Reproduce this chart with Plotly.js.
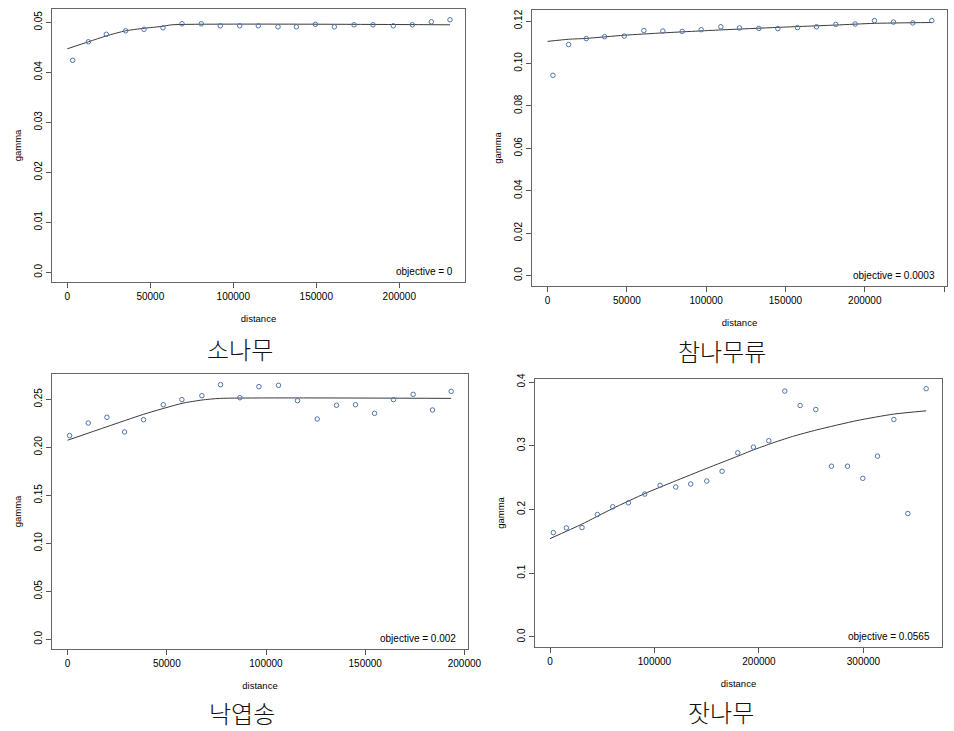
<!DOCTYPE html>
<html>
<head>
<meta charset="utf-8">
<script src="https://cdn.plot.ly/plotly-3.0.1.min.js"></script>
<style>
  html, body { margin: 0; padding: 0; background: #fff; }
  #chart { width: 954px; height: 731px; }
</style>
</head>
<body>
<div id="chart"></div>
<script>
// empirical variogram points and fitted model lines, read off the figure
// 소나무
const dist1 = [3220, 12670, 23510, 35160, 46200, 57650, 69100, 80740, 92190, 103830, 115080,
  126930, 137970, 149420, 160860, 172710, 184160, 196400, 207850, 219290, 230540];
const gamma1 = [0.0424, 0.0461, 0.0476, 0.0483, 0.0486, 0.0489, 0.0497, 0.0497, 0.0493, 0.0493, 0.0493,
  0.0491, 0.0491, 0.0496, 0.0491, 0.0495, 0.0495, 0.0493, 0.0495, 0.0501, 0.0505];
const fitDist1 = [0, 12670, 23700, 35160, 46200, 57500, 63000, 230540];
const fitGamma1 = [0.0447, 0.0461, 0.0473, 0.0483, 0.0488, 0.0492, 0.0495, 0.0495];

// 참나무류
const dist2 = [3360, 13240, 24370, 35920, 48320, 60710, 72690, 84870, 96850, 109240, 121010,
  133190, 145170, 157560, 169540, 181720, 193910, 206090, 218070, 230250, 242230];
const gamma2 = [0.0944, 0.1089, 0.1117, 0.1126, 0.1129, 0.1155, 0.1153, 0.1151, 0.1159, 0.1173, 0.1167,
  0.1165, 0.1164, 0.1169, 0.1173, 0.1184, 0.1186, 0.1202, 0.1195, 0.1191, 0.1202];
const fitDist2 = [0, 13240, 24370, 48320, 72690, 109240, 145170, 181720, 206090, 242230];
const fitGamma2 = [0.1104, 0.1114, 0.1118, 0.1133, 0.1144, 0.1158, 0.1170, 0.1181, 0.1189, 0.1193];

// 낙엽송
const dist3 = [1010, 10410, 19820, 28720, 38290, 48200, 57610, 67690, 77090, 86830, 96410,
  106320, 115890, 125800, 135540, 145110, 154690, 164260, 174170, 183910, 193320];
const gamma3 = [0.2122, 0.2253, 0.2313, 0.2160, 0.2288, 0.2444, 0.2497, 0.2538, 0.2653, 0.2517, 0.2632,
  0.2646, 0.2486, 0.2295, 0.2438, 0.2444, 0.2354, 0.2497, 0.2552, 0.2389, 0.2583];
const fitDist3 = [0, 19860, 38300, 57660, 67740, 76970, 193320];
const fitGamma3 = [0.2074, 0.2215, 0.2344, 0.2458, 0.2493, 0.2510, 0.2510];

// 잣나무
const dist4 = [3190, 15640, 30640, 45320, 60010, 75010, 90650, 105330, 120330, 134700, 150020,
  164700, 179700, 194700, 209380, 224700, 239390, 254390, 269390, 284710, 299390, 313440,
  329080, 342480, 360030];
const gamma4 = [0.1637, 0.1711, 0.1716, 0.1921, 0.2042, 0.2105, 0.2242, 0.2379, 0.2353, 0.2400, 0.2447,
  0.2600, 0.2889, 0.2979, 0.3079, 0.3858, 0.3632, 0.3568, 0.2679, 0.2679, 0.2489, 0.2837,
  0.3411, 0.1937, 0.3895];
const fitDist4 = [0, 30360, 60060, 91000, 118100, 150100, 178800, 194700, 210700, 232000, 255400,
  293800, 328800, 360030];
const fitGamma4 = [0.1543, 0.1769, 0.2016, 0.2252, 0.2435, 0.2646, 0.2830, 0.2935, 0.3030, 0.3145, 0.3249,
  0.3395, 0.3496, 0.3548];

const speciesNames = ['소나무', '참나무류', '낙엽송', '잣나무'];
const objectives = ['objective = 0', 'objective = 0.0003', 'objective = 0.002', 'objective = 0.0565'];

const xTicks = [
  [0, 50000, 100000, 150000, 200000],
  [0, 50000, 100000, 150000, 200000, 250000],
  [0, 50000, 100000, 150000, 200000],
  [0, 100000, 200000, 300000]
];
const yTickVals = [
  [0, 0.01, 0.02, 0.03, 0.04, 0.05],
  [0, 0.02, 0.04, 0.06, 0.08, 0.10, 0.12],
  [0, 0.05, 0.10, 0.15, 0.20, 0.25],
  [0, 0.1, 0.2, 0.3, 0.4]
];
const yTickText = [
  ['0.0', '0.01', '0.02', '0.03', '0.04', '0.05'],
  ['0.0', '0.02', '0.04', '0.06', '0.08', '0.10', '0.12'],
  ['0.0', '0.05', '0.10', '0.15', '0.20', '0.25'],
  ['0.0', '0.1', '0.2', '0.3', '0.4']
];

const W = 954, H = 731;
// plot boxes in pixels: [left, right, top, bottom]
const boxes = [
  [52, 465, 9, 282],
  [532, 947, 10, 286],
  [52, 468, 374, 649],
  [535, 942, 379, 647]
];
const xRanges = [[-9220, 239580], [-9840, 251830], [-7860, 201810], [-14370, 375190]];
const yRanges = [[-0.00194, 0.05266], [-0.0049, 0.12519], [-0.0101, 0.2764], [-0.0157, 0.4047]];
// gap between box bottom and the species name
const nameGap = [66, 64, 63, 64];

const pointColor = '#4d76ad';
const dists = [dist1, dist2, dist3, dist4];
const gammas = [gamma1, gamma2, gamma3, gamma4];
const fitDists = [fitDist1, fitDist2, fitDist3, fitDist4];
const fitGammas = [fitGamma1, fitGamma2, fitGamma3, fitGamma4];

const tickFont = { family: 'Liberation Sans, Arial, sans-serif', size: 10, color: '#000' };
const titleFont = { family: 'Liberation Sans, Arial, sans-serif', size: 9.5, color: '#000' };

const traces = [];
const layout = {
  width: W, height: H,
  margin: { l: 0, r: 0, t: 0, b: 0 },
  paper_bgcolor: '#fff', plot_bgcolor: '#fff',
  showlegend: false,
  annotations: []
};

boxes.forEach((b, i) => {
  const n = i === 0 ? '' : String(i + 1);
  const xa = 'x' + n, ya = 'y' + n;

  traces.push({
    x: fitDists[i], y: fitGammas[i], xaxis: xa, yaxis: ya,
    mode: 'lines', type: 'scatter',
    line: { color: '#3a3a3a', width: 1, shape: 'spline', smoothing: 0.6 },
    hoverinfo: 'skip'
  });
  traces.push({
    x: dists[i], y: gammas[i], xaxis: xa, yaxis: ya,
    mode: 'markers', type: 'scatter',
    marker: { symbol: 'circle-open', size: 4.5, color: pointColor, line: { width: 1 } }
  });

  layout['xaxis' + n] = {
    domain: [b[0] / W, b[1] / W],
    anchor: ya,
    range: xRanges[i],
    tickvals: xTicks[i],
    ticktext: xTicks[i].map(v => String(v)),
    ticks: 'outside', ticklen: 5, tickcolor: '#555',
    showline: true, mirror: true, linecolor: '#666', linewidth: 1,
    showgrid: false, zeroline: false,
    tickfont: tickFont,
    title: { text: 'distance', font: titleFont, standoff: 14 }
  };
  layout['yaxis' + n] = {
    domain: [1 - b[3] / H, 1 - b[2] / H],
    anchor: xa,
    range: yRanges[i],
    tickvals: yTickVals[i],
    ticktext: yTickText[i],
    tickangle: -90,
    ticks: 'outside', ticklen: 5, tickcolor: '#555',
    showline: true, mirror: true, linecolor: '#666', linewidth: 1,
    showgrid: false, zeroline: false,
    tickfont: tickFont,
    title: { text: 'gamma', font: titleFont, standoff: 9 }
  };

  // objective text, bottom right inside the box
  layout.annotations.push({
    xref: xa + ' domain', yref: ya + ' domain',
    x: 0.975, y: 0.01, xanchor: 'right', yanchor: 'bottom',
    text: objectives[i], showarrow: false,
    font: { family: 'Liberation Sans, Arial, sans-serif', size: 10, color: '#000' }
  });

  // species name under each panel
  layout.annotations.push({
    xref: 'paper', yref: 'paper',
    x: ((b[0] + b[1]) / 2 - 18) / W,
    y: 1 - (b[3] + nameGap[i]) / H,
    xanchor: 'center', yanchor: 'middle',
    text: speciesNames[i], showarrow: false,
    font: { family: 'Noto Sans CJK KR, sans-serif', size: 24, weight: 300, color: '#111' }
  });
});

Plotly.newPlot('chart', traces, layout, { displayModeBar: false, staticPlot: true });
</script>
</body>
</html>
